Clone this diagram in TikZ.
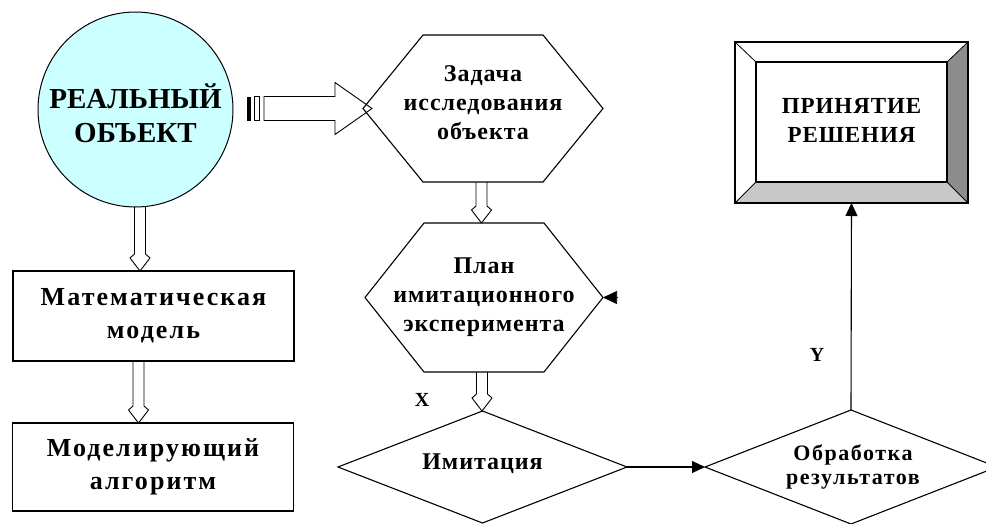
\documentclass[tikz,border=0pt]{standalone}
\usepackage{fontspec}
\setmainfont{Liberation Serif}
\newfontfamily\spA{Liberation Serif Bold}[LetterSpace=8]
\newfontfamily\spB{Liberation Serif Bold}[LetterSpace=4]
\newfontfamily\spC{Liberation Serif Bold}[LetterSpace=7]
\usetikzlibrary{arrows.meta,calc}
\definecolor{cyanfill}{HTML}{CCFFFF}
\definecolor{bevdark}{HTML}{8C8C8C}
\definecolor{bevlight}{HTML}{C8C8C8}
\newcommand\hollowdown[2]{%
  \draw[hollow] ($(#1)+(-5.5,0)$) -- ($(#2)+(-5.5,-17)$) -- ($(#2)+(-10,-13)$) -- (#2)
     -- ($(#2)+(10,-13)$) -- ($(#2)+(5.5,-17)$) -- ($(#1)+(5.5,0)$);}
\begin{document}
\begin{tikzpicture}[x=1pt,y=-1pt,
  every node/.style={inner sep=0pt,outer sep=0pt},
  outline/.style={draw=black,line width=1.1pt,line join=miter},
  boxed/.style={draw=black,line width=1.8pt,minimum width=281pt,minimum height=90pt},
  hollow/.style={draw=black,line width=0.9pt,line join=miter},
  flow/.style={draw=black,line width=1.1pt,-{Triangle[length=13pt,width=12pt]}},
  ftA/.style={font=\bfseries\fontsize{29}{34}\selectfont,align=center},
  ftB/.style={font=\spA\fontsize{26}{33}\selectfont,align=center},
  ftC/.style={font=\spB\fontsize{24}{29}\selectfont,align=center},
  ftD/.style={font=\spB\fontsize{23}{29}\selectfont,align=center},
  ftE/.style={font=\spC\fontsize{22}{24}\selectfont,align=center},
  ftF/.style={font=\bfseries\fontsize{20}{22}\selectfont},
]
\useasboundingbox (0,0) rectangle (986,523);
\clip (0,0) rectangle (986,523);

% real object
\node[circle,draw=black,line width=1pt,fill=cyanfill,minimum size=195pt] (obj) at (135.5,109.5) {};
\node[ftA] (objt) at (135.5,113) {РЕАЛЬНЫЙ\\ОБЪЕКТ};

% left boxes
\node[boxed,ftB] (box1) at (153.5,316) {Математическая\\модель};
\node[boxed,ftB,minimum height=88pt] (box2) at (153,467) {Моделирующий\\алгоритм};

% hexagon 1
\node[minimum width=240pt,minimum height=147pt] (hexA) at (483,108.5) {};
\draw[outline] (hexA.west) -- ($(hexA.north west)+(60,0)$) -- ($(hexA.north east)+(-60,0)$)
  -- (hexA.east) -- ($(hexA.south east)+(-60,0)$) -- ($(hexA.south west)+(60,0)$) -- cycle;
\node[ftC] (hexAt) at (483,103) {Задача\\исследования\\объекта};

% hexagon 2
\node[minimum width=238pt,minimum height=149pt] (hexB) at (484,297.5) {};
\draw[outline] (hexB.west) -- ($(hexB.north west)+(59,0)$) -- ($(hexB.north east)+(-59,0)$)
  -- (hexB.east) -- ($(hexB.south east)+(-59,0)$) -- ($(hexB.south west)+(59,0)$) -- cycle;
\node[ftC] (hexBt) at (484,297) {План\\имитационного\\эксперимента};

% diamonds
\node[minimum width=289pt,minimum height=112pt] (dA) at (482.5,467) {};
\draw[outline] (dA.north) -- (dA.east) -- (dA.south) -- (dA.west) -- cycle;
\node[ftC] (dAt) at (482.5,464) {Имитация};
\node[minimum width=292pt,minimum height=114pt] (dB) at (851,467) {};
\draw[outline] (dB.north) -- (dB.east) -- (dB.south) -- (dB.west) -- cycle;
\node[ftE] (dBt) at (853,467) {Обработка\\результатов};

% decision box with bevel
\node[minimum width=233pt,minimum height=161pt] (dec) at (851.5,122.5) {};
\node[minimum width=191pt,minimum height=120pt] (deci) at (851.5,122) {};
\fill[white] (dec.north west) -- (dec.north east) -- (deci.north east) -- (deci.north west) -- cycle;
\fill[bevdark] (dec.north east) -- (dec.south east) -- (deci.south east) -- (deci.north east) -- cycle;
\fill[bevlight] (dec.south east) -- (dec.south west) -- (deci.south west) -- (deci.south east) -- cycle;
\fill[white] (dec.south west) -- (dec.north west) -- (deci.north west) -- (deci.south west) -- cycle;
\draw[line width=0.8pt] (dec.north west) -- (deci.north west) (dec.north east) -- (deci.north east)
  (dec.south east) -- (deci.south east) (dec.south west) -- (deci.south west);
\draw[line width=1.6pt] (deci.north west) rectangle (deci.south east);
\draw[line width=2pt] (dec.north west) rectangle (dec.south east);
\node[ftD] (dect) at (851.5,120) {ПРИНЯТИЕ\\РЕШЕНИЯ};

% big hollow arrow: object -> task
\coordinate (tip) at ($(hexA.west)+(9,0)$);
\coordinate (t0) at ($(tip -| obj.east)+(14,0)$);
\fill ($(t0)+(0,-12)$) rectangle ($(t0)+(4,12)$);
\draw[line width=0.9pt] ($(t0)+(7.5,-12)$) rectangle ($(t0)+(12.5,12)$);
\draw[hollow] ($(t0)+(17,-12)$) -- ($(tip)+(-37,-12)$) -- ($(tip)+(-37,-26)$) -- (tip)
  -- ($(tip)+(-37,26)$) -- ($(tip)+(-37,12)$) -- ($(t0)+(17,12)$) -- cycle;

% vertical hollow arrows
\coordinate (a1) at ($(obj.south)+(4.5,0)$);
\coordinate (a1e) at (a1 |- box1.north);
\hollowdown{a1}{a1e}
\coordinate (a2) at ($(box1.south)+(-15,0)$);
\coordinate (a2e) at (a2 |- box2.north);
\hollowdown{a2}{a2e}
\coordinate (a3) at ($(hexA.south)+(-1.5,0)$);
\coordinate (a3e) at (a3 |- hexB.north);
\hollowdown{a3}{a3e}
\coordinate (a4) at ($(hexB.south)+(-2,0)$);
\coordinate (a4e) at (a4 |- dA.north);
\hollowdown{a4}{a4e}

% flow arrows
\draw[flow] (dA.east) -- (dB.west);
\draw[flow] (dB.north) -- (dec.south);
\coordinate (sidein) at ($(hexB.east)+(15,0)$);
\draw[draw=black,line width=0.6pt,-{Triangle[length=14pt,width=13pt]}] (sidein) -- (hexB.east);

% labels
\node[ftF] (lx) at (422,400) {X};
\node[ftF] (ly) at (817,355) {Y};
\end{tikzpicture}
\end{document}
